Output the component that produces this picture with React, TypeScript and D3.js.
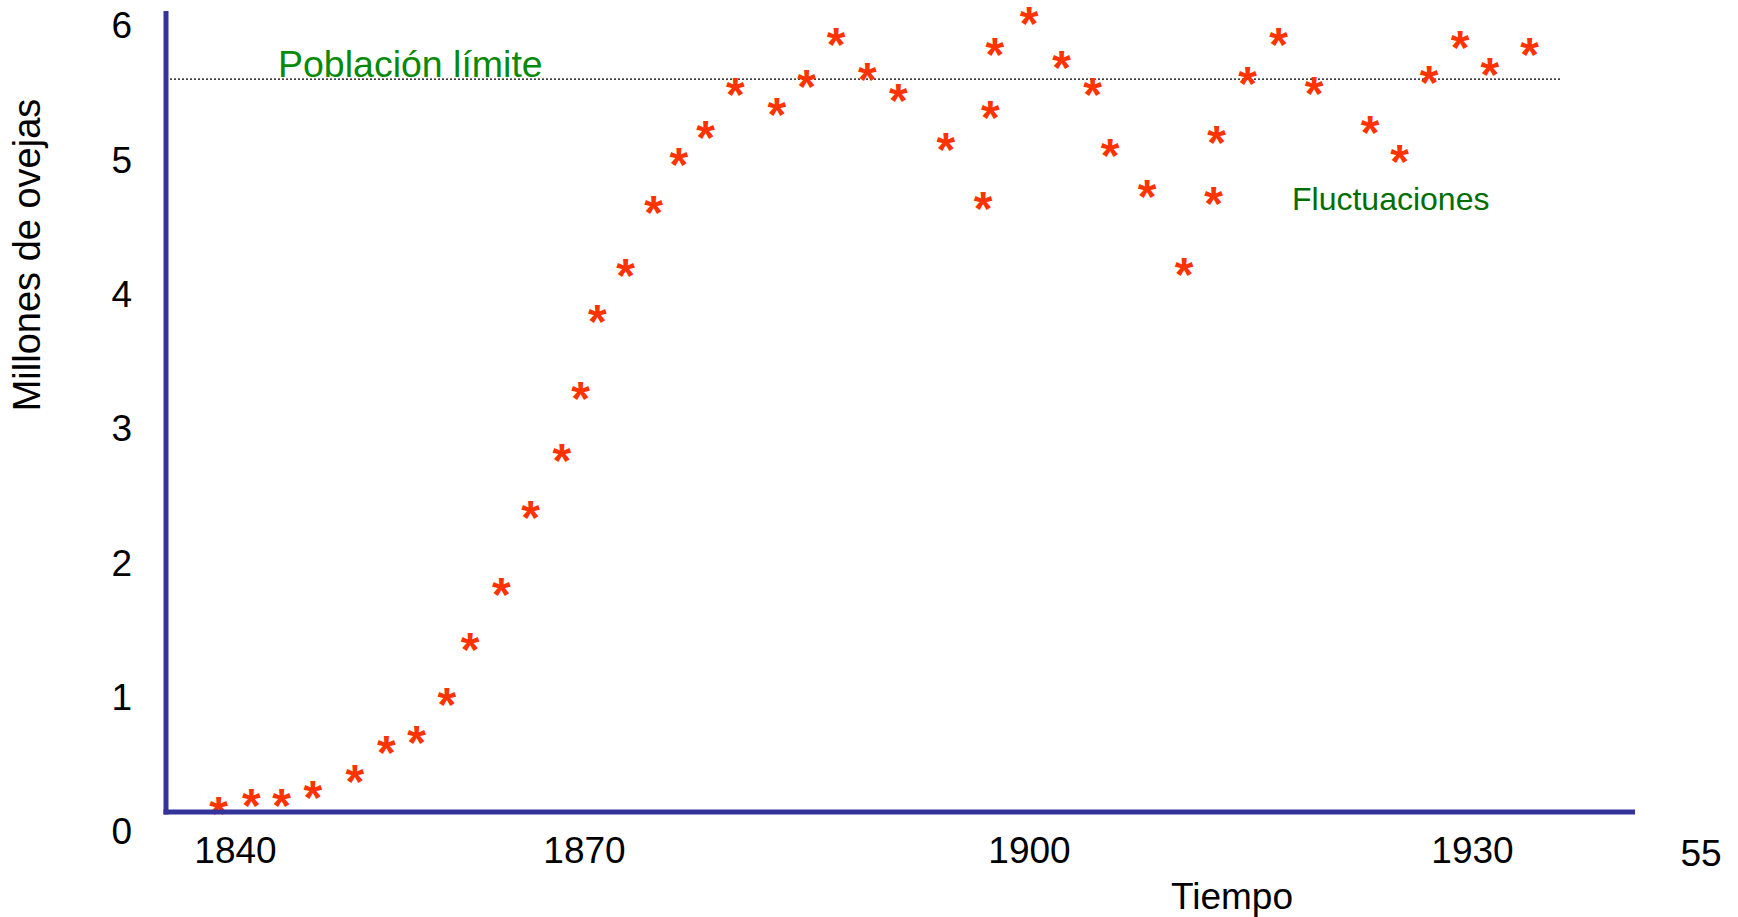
import React, { useEffect, useRef } from 'react';
import * as d3 from 'd3';

// años (posiciones aproximadas)
const years = [
  1838.6, 1841.4, 1844.0, 1846.7, 1850.3, 1853.0, 1855.6, 1858.2, 1860.2, 1862.9,
  1865.4, 1868.1, 1869.7, 1870.9, 1872.8, 1874.7, 1876.4, 1878.2, 1880.2, 1883.0,
  1885.0, 1887.0, 1889.1, 1891.2, 1894.4, 1896.9, 1897.4, 1897.7, 1900.0, 1902.2,
  1904.3, 1905.5, 1908.0, 1910.5, 1912.5, 1912.7, 1914.8, 1916.9, 1919.3, 1923.1,
  1925.1, 1927.1, 1929.2, 1931.2, 1933.9,
];

// millones de ovejas
const sheep = [
  0.18, 0.24, 0.24, 0.30, 0.42, 0.63, 0.71, 0.99, 1.40, 1.81,
  2.38, 2.81, 3.27, 3.84, 4.18, 4.65, 5.01, 5.21, 5.53, 5.38,
  5.59, 5.90, 5.64, 5.49, 5.12, 4.68, 5.36, 5.83, 6.06, 5.73,
  5.53, 5.08, 4.77, 4.19, 4.72, 5.17, 5.61, 5.90, 5.54, 5.25,
  5.03, 5.62, 5.88, 5.68, 5.83,
];

const xTicks = [1840, 1870, 1900, 1930];
const yTicks = [0, 1, 2, 3, 4, 5, 6];
const limite = 5.59;

const App: React.FC = () => {
  const svgRef = useRef<SVGSVGElement>(null);

  useEffect(() => {
    if (!svgRef.current) return;
    const svg = d3.select(svgRef.current);
    svg.selectAll('*').remove();

    const font = '"Liberation Sans", Arial, sans-serif';
    const axisColor = '#333399';

    // the slide has uneven spacing between the year labels
    const xScale = d3.scaleLinear().domain(xTicks).range([235, 584, 1029, 1472]);
    const yScale = d3.scaleLinear().domain([0, 6]).range([830, 24]);

    const axisX0 = 166;
    const axisY0 = 812;

    // population limit
    svg.append('line')
      .attr('x1', axisX0).attr('x2', 1561)
      .attr('y1', yScale(limite)).attr('y2', yScale(limite))
      .attr('stroke', '#000')
      .attr('stroke-width', 1.3)
      .attr('stroke-dasharray', '2,2');

    // points as asterisks
    const fs = 48;
    const points = years.map((y, i) => ({ year: y, value: sheep[i] }));
    svg.selectAll('.star')
      .data(points)
      .join('text')
      .attr('class', 'star')
      .attr('x', d => xScale(d.year))
      .attr('y', d => yScale(d.value) + fs * 0.5)
      .attr('text-anchor', 'middle')
      .attr('font-family', font)
      .attr('font-weight', 'bold')
      .attr('font-size', fs)
      .attr('fill', '#ff3300')
      .text('*');

    // axes lines
    svg.append('line')
      .attr('x1', axisX0).attr('x2', axisX0)
      .attr('y1', 11).attr('y2', axisY0 + 2.5)
      .attr('stroke', axisColor).attr('stroke-width', 5);
    svg.append('line')
      .attr('x1', axisX0 - 2.5).attr('x2', 1635)
      .attr('y1', axisY0).attr('y2', axisY0)
      .attr('stroke', axisColor).attr('stroke-width', 5);

    const yAxis = d3.axisLeft(yScale)
      .tickValues(yTicks)
      .tickFormat(d3.format('d'))
      .tickSize(0)
      .tickPadding(8);
    const gy = svg.append('g')
      .attr('transform', 'translate(140,2)')
      .call(yAxis);
    gy.select('.domain').remove();
    gy.selectAll('text')
      .attr('font-family', font)
      .attr('font-size', 37)
      .attr('fill', '#000');

    const xAxis = d3.axisBottom(xScale)
      .tickValues(xTicks)
      .tickFormat(d3.format('d'))
      .tickSize(0)
      .tickPadding(25);
    const gx = svg.append('g')
      .attr('transform', `translate(0,${axisY0})`)
      .call(xAxis);
    gx.select('.domain').remove();
    gx.selectAll('text')
      .attr('font-family', font)
      .attr('font-size', 37)
      .attr('fill', '#000');

    // slide number
    svg.append('text')
      .attr('x', 1701).attr('y', 866)
      .attr('text-anchor', 'middle')
      .attr('font-family', font).attr('font-size', 37)
      .text('55');

    // titles
    svg.append('text')
      .attr('x', 1232).attr('y', 909)
      .attr('text-anchor', 'middle')
      .attr('font-family', font).attr('font-size', 37)
      .text('Tiempo');
    svg.append('text')
      .attr('transform', 'translate(40,255) rotate(-90)')
      .attr('text-anchor', 'middle')
      .attr('font-family', font).attr('font-size', 38)
      .text('Millones de ovejas');

    // annotations
    svg.append('text')
      .attr('x', 278).attr('y', 77)
      .attr('font-family', font).attr('font-size', 37.5)
      .attr('fill', '#078a07')
      .text('Población límite');
    svg.append('text')
      .attr('x', 1292).attr('y', 210)
      .attr('font-family', font).attr('font-size', 32)
      .attr('fill', '#006e00')
      .text('Fluctuaciones');
  }, []);

  return (
    <svg
      ref={svgRef}
      width={1738}
      height={917}
      style={{ position: 'absolute', left: 0, top: 0, background: '#fff' }}
    />
  );
};

export default App;
